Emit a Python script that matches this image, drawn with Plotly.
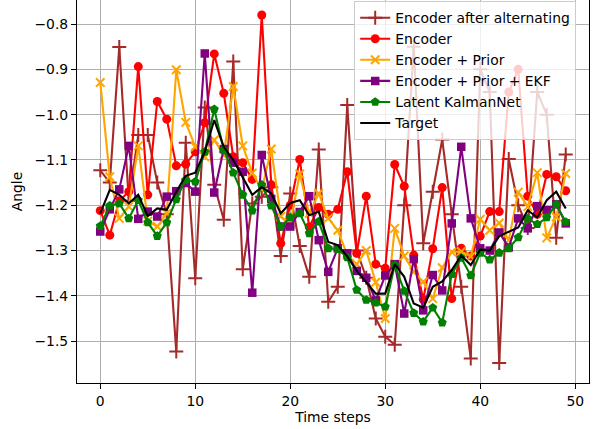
import plotly.graph_objects as go

steps = list(range(50))

target = [-1.218, -1.166, -1.177, -1.196, -1.177, -1.224, -1.207, -1.21, -1.17, -1.135,
          -1.128, -1.082, -1.012, -1.071, -1.1, -1.14, -1.177, -1.16, -1.174, -1.218,
          -1.195, -1.189, -1.222, -1.214, -1.281, -1.288, -1.313, -1.345, -1.37, -1.395,
          -1.395, -1.33, -1.358, -1.417, -1.426, -1.38, -1.368, -1.343, -1.311, -1.332,
          -1.298, -1.3, -1.268, -1.259, -1.249, -1.211, -1.227, -1.189, -1.17, -1.207]

latent_kalmannet = [-1.246, -1.201, -1.196, -1.229, -1.189, -1.238, -1.268, -1.238, -1.187, -1.144,
                    -1.148, -1.082, -0.988, -1.078, -1.128, -1.177, -1.212, -1.155, -1.201, -1.247,
                    -1.227, -1.218, -1.262, -1.236, -1.295, -1.297, -1.315, -1.387, -1.409, -1.415,
                    -1.424, -1.332, -1.389, -1.438, -1.457, -1.426, -1.459, -1.352, -1.316, -1.355,
                    -1.305, -1.32, -1.305, -1.295, -1.271, -1.229, -1.242, -1.227, -1.198, -1.237]

enc_prior_ekf = [-1.258, -1.209, -1.165, -1.069, -1.23, -1.214, -1.225, -1.181, -1.169, -1.151,
                 -1.17, -0.865, -1.172, -1.076, -1.106, -1.126, -1.393, -1.089, -1.186, -1.247,
                 -1.247, -1.215, -1.18, -1.277, -1.347, -1.295, -1.306, -1.345, -1.36, -1.41,
                 -1.355, -1.33, -1.439, -1.319, -1.432, -1.354, -1.388, -1.24, -1.071, -1.229,
                 -1.295, -1.3, -1.26, -1.293, -1.229, -1.251, -1.202, -1.211, -1.198, -1.24]

enc_prior = [-0.929, -1.137, -1.229, -1.203, -1.069, -1.235, -1.247, -1.218, -0.901, -1.017,
             -1.071, -1.093, -1.056, -1.09, -0.938, -1.069, -1.129, -1.165, -1.076, -1.225,
             -1.24, -1.131, -1.218, -1.174, -1.229, -1.255, -1.31, -1.33, -1.3, -1.37,
             -1.45, -1.251, -1.312, -1.347, -1.369, -1.406, -1.338, -1.303, -1.302, -1.313,
             -1.231, -1.255, -1.239, -1.277, -1.171, -1.203, -1.128, -1.272, -1.226, -1.13]

encoder = [-1.212, -1.266, -1.19, -1.17, -0.894, -1.177, -0.971, -1.01, -1.113, -1.109,
           -1.082, -1.018, -0.866, -0.953, -1.093, -1.106, -1.143, -0.78, -1.155, -1.284,
           -1.2, -1.099, -1.248, -1.205, -1.22, -1.209, -1.126, -1.306, -1.18, -1.33,
           -1.339, -1.11, -1.158, -1.31, -1.408, -1.296, -1.161, -1.406, -1.295, -1.312,
           -1.268, -1.214, -1.214, -0.95, -0.9, -1.18, -1.22, -1.132, -1.137, -1.168]

enc_alternating = [-1.123, -1.15, -0.851, -1.19, -1.045, -1.045, -1.15, -1.22, -1.523, -1.062,
                   -1.361, -0.984, -1.155, -1.232, -0.883, -1.341, -1.196, -1.181, -1.16, -1.312,
                   -1.174, -1.29, -1.358, -1.077, -1.413, -1.38, -0.979, -1.3, -1.36, -1.45,
                   -1.49, -1.508, -1.2, -0.85, -1.284, -1.17, -1.055, -1.22, -1.38, -1.538,
                   -0.9, -0.95, -1.548, -1.098, -1.2, -1.25, -0.95, -1.0, -1.272, -1.088]

series = [
    ("Encoder after alternating", enc_alternating, "#a52a2a", "cross-thin", 10),
    ("Encoder", encoder, "#ff0000", "circle", 9),
    ("Encoder + Prior", enc_prior, "#ffa500", "x-thin", 8.5),
    ("Encoder + Prior + EKF", enc_prior_ekf, "#800080", "square", 8.5),
    ("Latent KalmanNet", latent_kalmannet, "#008000", "pentagon", 9.5),
]

fig = go.Figure()
for name, vals, color, symbol, size in series:
    thin = symbol.endswith("thin")
    fig.add_trace(go.Scatter(
        x=steps, y=vals, name=name, mode="lines+markers",
        line=dict(color=color, width=2.1),
        marker=dict(symbol=symbol, size=size, color=color,
                    line=dict(color=color, width=2 if thin else 0)),
    ))
fig.add_trace(go.Scatter(x=steps, y=target, name="Target", mode="lines",
                         line=dict(color="black", width=2.1)))

font = dict(family="DejaVu Sans", size=13.9, color="black")
axis_common = dict(showgrid=True, gridcolor="#b0b0b0", gridwidth=1.1,
                   showline=True, linecolor="black", linewidth=1.1, mirror=True,
                   ticks="outside", ticklen=5, tickwidth=1.1, tickcolor="black",
                   zeroline=False, automargin=False, tickfont=font)
fig.update_layout(
    width=596, height=429,
    margin=dict(l=77, r=7, t=0, b=46),
    plot_bgcolor="white", paper_bgcolor="white",
    font=font,
    showlegend=True,
    legend=dict(x=0.975, y=0.997, xanchor="right", yanchor="top",
                bgcolor="rgba(255,255,255,0.8)", bordercolor="#cccccc", borderwidth=1,
                font=font, tracegroupgap=0, itemwidth=30),
    xaxis=dict(range=[-2.45, 51.45], tickvals=[0, 10, 20, 30, 40, 50],
               title=dict(text="Time steps", standoff=0, font=font), **axis_common),
    yaxis=dict(range=[-1.5923, -0.747],
               tickvals=[-0.8, -0.9, -1.0, -1.1, -1.2, -1.3, -1.4, -1.5], tickformat=".1f",
               title=dict(text="Angle", standoff=8, font=font), **axis_common),
)
fig.write_html("out.html", config={"displayModeBar": False},
               post_script="document.body.style.margin='0';document.body.style.padding='0';")
